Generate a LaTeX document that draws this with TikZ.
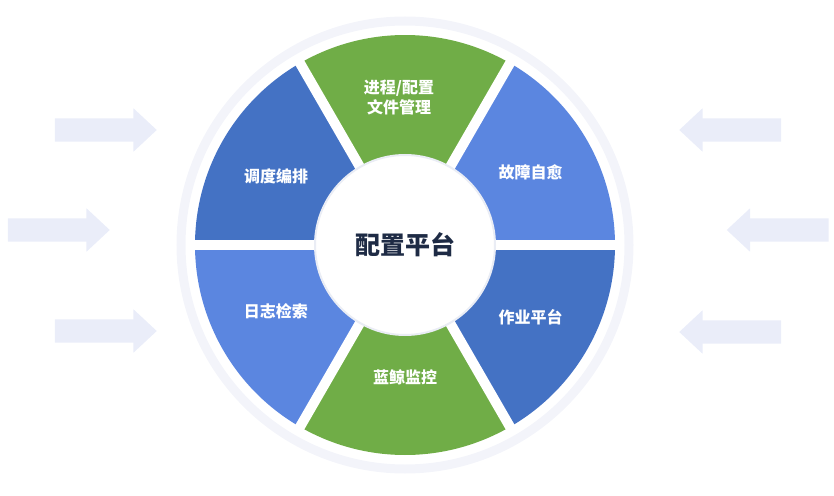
\documentclass[tikz,border=0pt]{standalone}
\usepackage{fontspec}
\newfontfamily\cjk{Noto Sans CJK SC}
\usetikzlibrary{shapes.arrows}
\definecolor{segdark}{RGB}{68,114,196}
\definecolor{seglight}{RGB}{91,134,224}
\definecolor{seggreen}{RGB}{112,173,71}
\definecolor{arrowfill}{RGB}{234,237,249}
\definecolor{ringgray}{RGB}{243,244,250}
\definecolor{hubtext}{RGB}{30,43,69}
\begin{document}
\begin{tikzpicture}[x=1pt, y=1pt,
  seg node/.style={text=white, font=\cjk\bfseries\fontsize{16}{20}\selectfont, align=center},
  hub node/.style={circle, fill=white, draw={rgb,255:red,234;green,237;blue,245}, line width=2pt, minimum size=180pt, inner sep=0pt, text=hubtext, font=\cjk\bfseries\fontsize{25}{28}\selectfont},
  arrow node/.style={single arrow, fill=arrowfill, draw=none, minimum height=102pt, inner sep=11.5pt, single arrow head extend=10pt, single arrow tip angle=86}]
\useasboundingbox (-405,-250) rectangle (429,245);
%ring
\draw[ringgray, line width=9pt] (0,0) circle (224);
\begin{scope}
\fill[seglight] (0:88) -- (0:210) arc[start angle=0, end angle=60, radius=210] -- (60:88) arc[start angle=60, end angle=0, radius=88] -- cycle;
\fill[seggreen] (60:88) -- (60:210) arc[start angle=60, end angle=120, radius=210] -- (120:88) arc[start angle=120, end angle=60, radius=88] -- cycle;
\fill[segdark] (120:88) -- (120:210) arc[start angle=120, end angle=180, radius=210] -- (180:88) arc[start angle=180, end angle=120, radius=88] -- cycle;
\fill[seglight] (180:88) -- (180:210) arc[start angle=180, end angle=240, radius=210] -- (240:88) arc[start angle=240, end angle=180, radius=88] -- cycle;
\fill[seggreen] (240:88) -- (240:210) arc[start angle=240, end angle=300, radius=210] -- (300:88) arc[start angle=300, end angle=240, radius=88] -- cycle;
\fill[segdark] (300:88) -- (300:210) arc[start angle=300, end angle=360, radius=210] -- (360:88) arc[start angle=360, end angle=300, radius=88] -- cycle;
\end{scope}
\begin{scope}[white, line width=10pt]
\draw (180:214) -- (0:214);
\draw (240:214) -- (60:214);
\draw (300:214) -- (120:214);
\end{scope}
\node[hub node] (hub) at (0,0) {配置平台};
\begin{scope}
\node[seg node] (proc) at (-6,147) {进程/配置\\文件管理};
\node[seg node] (fault) at (30:145) {故障自愈};
\node[seg node] (job) at (330:145) {作业平台};
\node[seg node] (monitor) at (0,-132) {蓝鲸监控};
\node[seg node] (log) at (207:145) {日志检索};
\node[seg node] (sched) at (152:146) {调度编排};
\end{scope}
\begin{scope}
\node[arrow node] (l1) at (-305.5,115) {};
\node[arrow node] (l2) at (-352.5,15) {};
\node[arrow node] (l3) at (-305.5,-86) {};
\node[arrow node, shape border rotate=180] (r1) at (331.5,115) {};
\node[arrow node, shape border rotate=180] (r2) at (379,15) {};
\node[arrow node, shape border rotate=180] (r3) at (331.5,-87) {};
\end{scope}
\end{tikzpicture}
\end{document}
